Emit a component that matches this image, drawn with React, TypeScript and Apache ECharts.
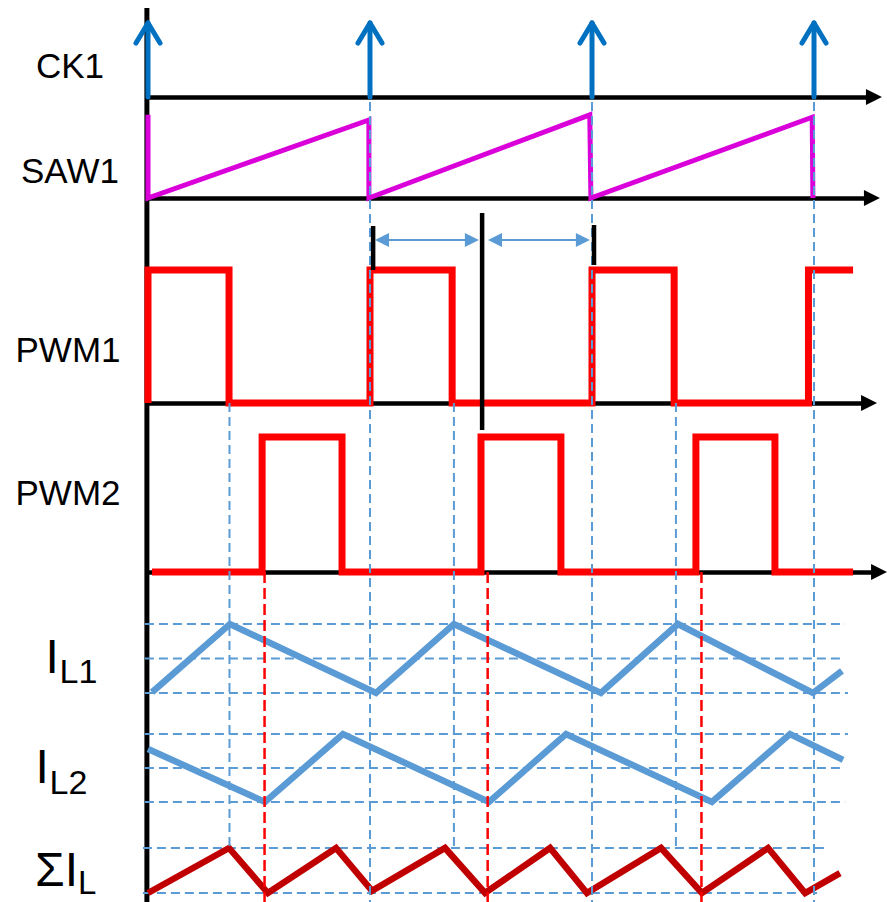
import { useEffect, useRef } from 'react';
import * as echarts from 'echarts';

const W = 887;
const H = 902;
// time axis in % of one clock period (edge at 0, 100, 200, 300)
const T_MIN = -66.67;
const T_MAX = 332.88;
const PX_PER_T = W / (T_MAX - T_MIN);

// ---------------- data ----------------
const clockEdges = [0, 100, 200, 300];
const saw1: [number, number][] = [[0, 1.04], [0, 0], [99.5, 0.975], [99.5, 0], [199, 1.04], [199.5, 0], [299.2, 1.01], [299.5, 0]];
const pwm1: [number, number][] = [[0, 0], [0, 1], [36.5, 0], [100, 1], [137, 0], [200, 1], [237, 0], [297.5, 1], [317.6, 1]];
const pwm2: [number, number][] = [[1.8, 0], [51.4, 1], [87.4, 0], [150, 1], [186, 0], [246.8, 1], [282.4, 0], [317.6, 0]];
const iL1: [number, number][] = [[1.8, 0.01], [36.9, 1], [102.7, 0], [137.8, 1], [204, 0], [238.7, 1], [299.5, 0], [312.6, 0.32]];
const iL2: [number, number][] = [[0, 0.78], [52.7, 0], [87.8, 1], [153.6, 0], [188.3, 1], [254, 0], [289.2, 1], [313.1, 0.62]];
const iSum: [number, number][] = [[0, 0], [36.5, 1], [54, 0], [84.7, 1], [100.9, 0.05], [133.8, 1], [151.8, 0], [181.1, 1], [197.7, 0], [231.1, 1], [249.5, 0], [279.3, 1], [296, 0], [311.7, 0.44]];
const guideClock = [100, 200, 300];
const guidePwm1Fall = [36.7, 137.8, 237.8];
const guidePwm2Rise = [52.5, 153, 249.3];
const ilLevels = [0, 0.5, 1];
const sumLevels = [0, 1];
const dutyMarkers = [101.4, 150.5, 200.9];
const dutyArrows: [number, number][] = [[105.4, 145.9], [156.3, 195.9]];

const laneNames = ['CK1', 'SAW1', 'PWM1', 'PWM2'];

// ---------------- layout ----------------
const LANES = {
  ck: { base: 97, height: 74 },
  saw: { base: 198, height: 80 },
  pwm1: { base: 403, height: 133 },
  pwm2: { base: 572, height: 135 },
  il1: { base: 693, height: 69 },
  il2: { base: 802, height: 68 },
  sum: { base: 893, height: 45 },
};
type Lane = { base: number; height: number };
const yOf = (lane: Lane, v: number) => lane.base - v * lane.height;
const toXY = (pts: [number, number][], lane: Lane) => pts.map(([t, v]) => [t, yOf(lane, v)]);

const FONT = '"Liberation Sans", Arial, sans-serif';
const BLUE_DASH = '#5B9BD5';

function lineSeries(data: any[], color: string, width: number, z: number, extra: any = {}) {
  return {
    type: 'line',
    data,
    symbol: 'none',
    showSymbol: false,
    silent: true,
    clip: false,
    animation: false,
    z,
    step: extra.step,
    emphasis: { disabled: true },
    lineStyle: { color, width, cap: extra.cap || 'butt', join: extra.join || 'miter', type: extra.type || 'solid' },
  };
}

function arrowSeries(lines: [number[], number[]][], color: string, width: number, symbols: string[], size: number, z: number) {
  return {
    type: 'line',
    data: [],
    silent: true,
    z,
    animation: false,
    markLine: {
      silent: true,
      animation: false,
      z,
      symbol: symbols,
      symbolSize: size,
      precision: 4,
      label: { show: false },
      emphasis: { disabled: true },
      lineStyle: { color, width, type: 'solid', opacity: 1 },
      data: lines.map(([a, b]) => [{ coord: a }, { coord: b }]),
    },
  };
}

function buildOption() {
  const series: any[] = [];
  const L = LANES;

  // main vertical axis
  series.push(lineSeries([[-0.5, 8], [-0.5, H]], '#000', 5, 2));

  // baselines with arrow heads
  series.push(arrowSeries([
    [[0, L.ck.base], [327, L.ck.base]],
    [[0, L.saw.base], [326.1, L.saw.base]],
    [[0, L.pwm1.base], [324.8, L.pwm1.base]],
    [[0, L.pwm2.base], [329.3, L.pwm2.base]],
  ], '#000', 4.5, ['none', 'triangle'], 16, 2));

  // dashed level grids
  const ilEnds1 = [315.3, 313.1, 314];
  const ilEnds2 = [314, 312.6, 315.3];
  ilLevels.forEach((lv, i) => {
    series.push(lineSeries([[-1.4, yOf(L.il1, lv)], [ilEnds1[i], yOf(L.il1, lv)]], BLUE_DASH, 2, 3, { type: [9, 5] }));
    series.push(lineSeries([[-1.4, yOf(L.il2, lv)], [ilEnds2[i], yOf(L.il2, lv)]], BLUE_DASH, 2, 3, { type: [9, 5] }));
  });
  const sumEnds = [301.4, 306.3];
  sumLevels.forEach((lv, i) => {
    series.push(lineSeries([[-2.3, yOf(L.sum, lv)], [sumEnds[i], yOf(L.sum, lv)]], BLUE_DASH, 2, 3, { type: [9, 5] }));
  });

  // waveforms
  series.push(lineSeries(toXY(iL1, L.il1), '#5B9BD5', 6.5, 4));
  series.push(lineSeries(toXY(iL2, L.il2), '#5B9BD5', 6.5, 4));
  series.push(lineSeries(toXY(iSum, L.sum), '#C00000', 6.5, 4));
  series.push(lineSeries(toXY(pwm1, L.pwm1), '#FF0000', 7, 5, { step: 'end' }));
  series.push(lineSeries(toXY(pwm2, L.pwm2), '#FF0000', 7, 5, { step: 'end' }));
  series.push(lineSeries(toXY(saw1, L.saw), '#DA00DA', 5, 5));

  // vertical guides
  guideClock.forEach((t) => series.push(lineSeries([[t, 88], [t, H]], BLUE_DASH, 2, 6, { type: [9, 5] })));
  guidePwm1Fall.forEach((t) => series.push(lineSeries([[t, L.pwm1.base], [t, yOf(L.sum, 1)]], BLUE_DASH, 2, 6, { type: [9, 5] })));
  guidePwm2Rise.forEach((t) => series.push(lineSeries([[t, L.pwm2.base], [t, H]], '#FF0000', 2.5, 6, { type: [11, 5] })));

  // duty markers (black bars) and double arrows
  const markerSpans = [[226, 270], [213, 430], [225, 265]];
  dutyMarkers.forEach((t, i) => series.push(lineSeries([[t, markerSpans[i][0]], [t, markerSpans[i][1]]], '#000', 4.5, 6)));
  series.push(arrowSeries(dutyArrows.map(([a, b]) => [[a, 240], [b, 240]] as [number[], number[]]), BLUE_DASH, 2, ['triangle', 'triangle'], 14, 6));

  // clock arrows
  const dx = 12 / PX_PER_T;
  const tipY = yOf(L.ck, 1);
  const wingY = tipY + 20;
  clockEdges.forEach((t) => {
    series.push(lineSeries([[t, L.ck.base], [t, tipY]], '#0070C0', 5, 7, { cap: 'round' }));
    series.push(lineSeries([[t - dx, wingY], [t, tipY], [t + dx, wingY]], '#0070C0', 5, 7, { cap: 'round', join: 'round' }));
  });

  const txt = (text: string, x: number, y: number, size: number) => ({
    type: 'text',
    x,
    y,
    z: 10,
    silent: true,
    style: {
      text,
      fill: '#000',
      font: `${size}px ${FONT}`,
      align: 'left',
      verticalAlign: 'middle',
      textAlign: 'left',
      textVerticalAlign: 'middle',
    },
  });

  const labelPos = [[36, 65], [21, 170], [15.5, 349], [15.5, 492]];
  const graphic: any[] = laneNames.map((n, i) => txt(n, labelPos[i][0], labelPos[i][1], 35));
  graphic.push(txt('I', 45.5, 656, 48));
  graphic.push(txt('L1', 59.5, 671, 34));
  graphic.push(txt('I', 35.5, 766, 48));
  graphic.push(txt('L2', 49.5, 782, 34));
  graphic.push(txt('ΣI', 35, 869, 48));
  graphic.push(txt('L', 78, 882, 33));

  return {
    animation: false,
    grid: { left: 0, right: 0, top: 0, bottom: 0, containLabel: false },
    xAxis: { type: 'value', min: T_MIN, max: T_MAX, show: false },
    yAxis: { type: 'value', min: 0, max: H, inverse: true, show: false },
    series,
    graphic,
  };
}

export default function App() {
  const ref = useRef<HTMLDivElement>(null);
  useEffect(() => {
    if (!ref.current) return;
    const chart = echarts.init(ref.current, undefined, { renderer: 'svg' });
    chart.setOption(buildOption() as any);
    return () => chart.dispose();
  }, []);
  return (
    <div
      ref={ref}
      style={{ position: 'fixed', left: 0, top: 0, width: W, height: H, background: '#fff' }}
    />
  );
}
